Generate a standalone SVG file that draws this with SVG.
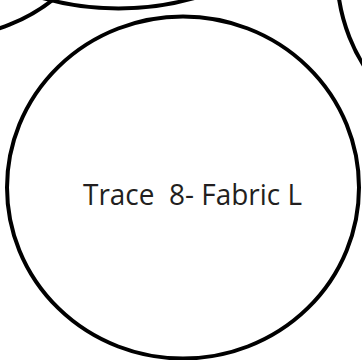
<svg xmlns="http://www.w3.org/2000/svg" width="362" height="360" viewBox="0 0 362 360">
<style>
.c{fill:none;stroke:#000;stroke-width:4}
.t{font-family:"Open Sans","Liberation Sans",sans-serif;font-size:30px;fill:#231f20;white-space:pre}
</style>
<rect width="362" height="360" fill="#fff"/>
<g id="node-topleft"><circle class="c" cx="-55" cy="-138" r="175"/></g>
<g id="node-top"><circle class="c" cx="118.5" cy="-271.5" r="280"/></g>
<g id="node-right"><circle class="c" cx="514" cy="-28" r="177"/></g>
<g id="node-main">
<ellipse cx="183" cy="187.5" rx="176" ry="171" fill="#fff" stroke="#000" stroke-width="4"/>
<text class="t" x="83" y="205" xml:space="preserve" textLength="219" lengthAdjust="spacingAndGlyphs">Trace  8- Fabric L</text>
</g>
<g id="connectors"/>
</svg>
